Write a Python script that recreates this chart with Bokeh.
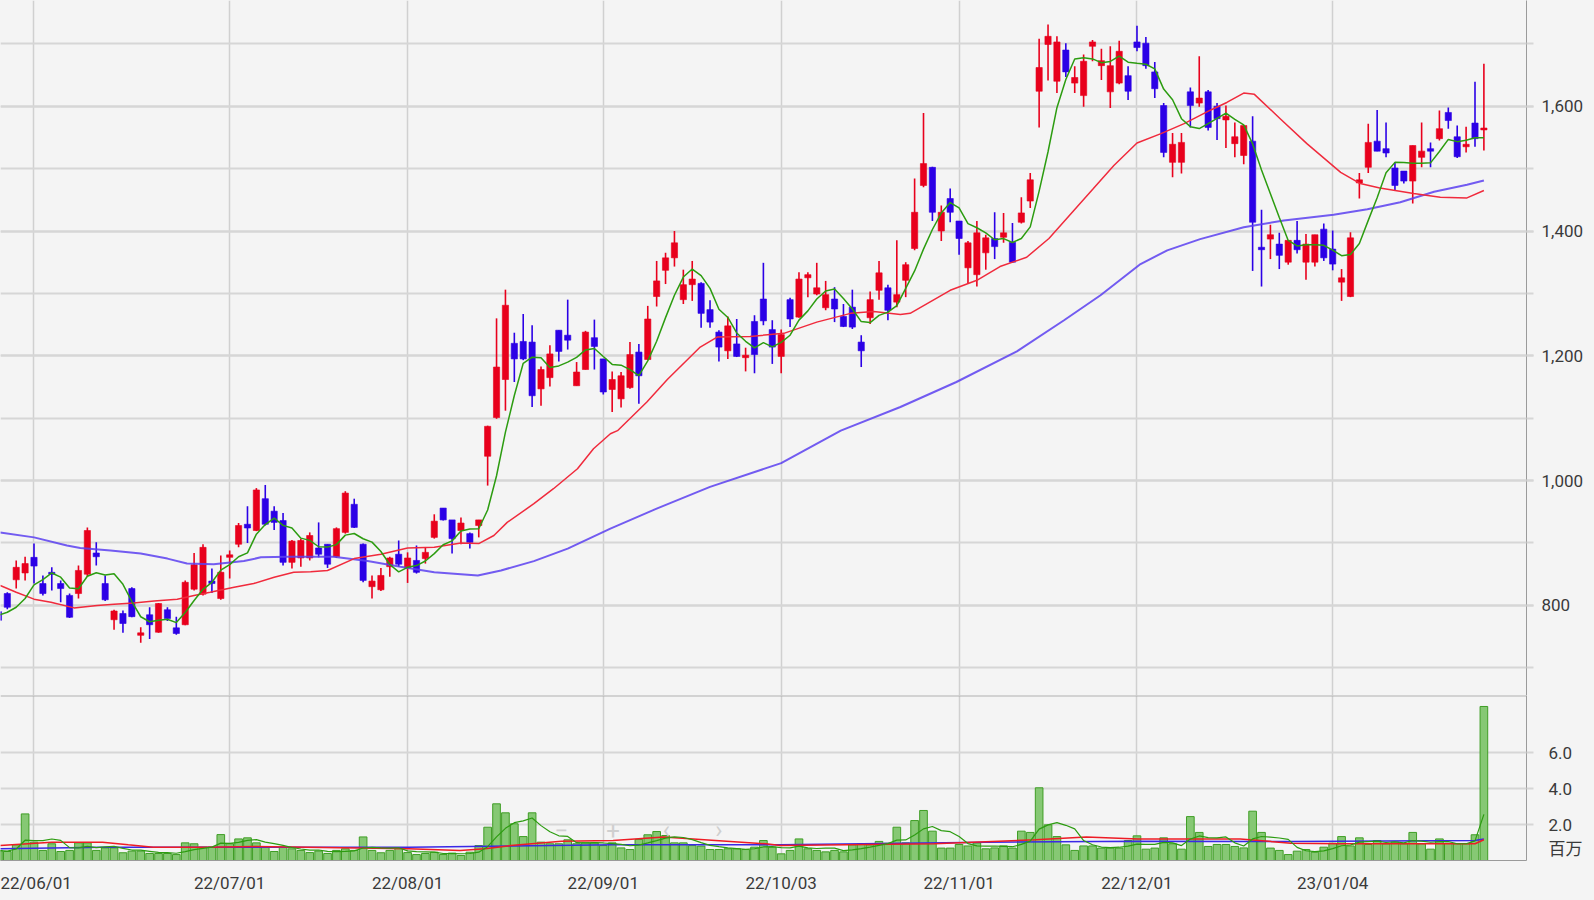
import pandas as pd
from bokeh.plotting import figure
from bokeh.layouts import column
from bokeh.models import (ColumnDataSource, FixedTicker, SingleIntervalTicker, Range1d,
                          NumeralTickFormatter, Span, Label)
from bokeh.embed import file_html
from bokeh.resources import INLINE

# ---------------- data ----------------
day_index = list(range(-4, 164))  # trading-day index, 0 = 22/06/01

opens = [790, 819, 841, 852,
         877, 835, 853, 835, 816, 819, 850, 884, 835, 777,
         787, 827, 752, 785, 757, 793, 764, 769, 826, 818,
         839, 811, 877, 898, 930, 920, 971, 951, 936, 869,
         876, 876, 892, 898, 878, 917, 962, 898, 830, 825,
         862, 882, 860, 872, 875, 909, 956, 937, 920, 915,
         928, 1039, 1101, 1162, 1220, 1223, 1222, 1147, 1165, 1241,
         1233, 1152, 1178, 1229, 1195, 1146, 1131, 1149, 1206, 1194,
         1295, 1337, 1357, 1290, 1314, 1316, 1274, 1238, 1208, 1219,
         1197, 1255, 1291, 1242, 1199, 1290, 1262, 1325, 1299, 1277,
         1291, 1263, 1278, 1222, 1261, 1305, 1309, 1286, 1321, 1372,
         1473, 1502, 1400, 1452, 1416, 1341, 1330, 1365, 1388, 1390,
         1382, 1414, 1448, 1624, 1699, 1640, 1690, 1637, 1617, 1696,
         1665, 1623, 1637, 1649, 1703, 1701, 1655, 1601, 1510, 1510,
         1623, 1605, 1623, 1600, 1578, 1540, 1521, 1544, 1374, 1387,
         1379, 1350, 1385, 1350, 1350, 1403, 1371, 1318, 1295, 1477,
         1502, 1544, 1532, 1501, 1496, 1480, 1518, 1532, 1548, 1590,
         1551, 1535, 1573, 1562]
highs = [795, 821, 872, 878,
         899, 848, 861, 840, 819, 864, 925, 901, 848, 793,
         792, 829, 765, 797, 804, 797, 782, 840, 884, 898,
         859, 880, 888, 932, 959, 988, 993, 959, 948, 905,
         907, 917, 933, 898, 925, 983, 971, 899, 848, 860,
         878, 904, 885, 896, 892, 946, 956, 937, 941, 917,
         937, 1088, 1260, 1306, 1237, 1267, 1249, 1183, 1217, 1241,
         1290, 1190, 1240, 1258, 1195, 1175, 1174, 1222, 1219, 1280,
         1352, 1365, 1400, 1338, 1352, 1318, 1289, 1241, 1263, 1259,
         1213, 1265, 1349, 1257, 1242, 1293, 1334, 1334, 1349, 1320,
         1310, 1283, 1306, 1233, 1303, 1352, 1314, 1385, 1350, 1484,
         1589, 1503, 1441, 1468, 1416, 1384, 1416, 1394, 1430, 1429,
         1413, 1454, 1493, 1708, 1731, 1712, 1701, 1664, 1683, 1706,
         1692, 1696, 1705, 1664, 1729, 1711, 1671, 1605, 1557, 1557,
         1630, 1680, 1626, 1605, 1601, 1574, 1569, 1584, 1434, 1410,
         1397, 1385, 1416, 1395, 1394, 1412, 1401, 1339, 1398, 1493,
         1572, 1594, 1574, 1510, 1496, 1537, 1574, 1542, 1593, 1598,
         1569, 1567, 1639, 1668]
lows = [772, 794, 827, 840,
        835, 816, 824, 805, 780, 811, 846, 864, 807, 761,
        756, 781, 740, 746, 756, 775, 753, 768, 824, 816,
        820, 809, 843, 893, 900, 919, 928, 921, 864, 859,
        862, 872, 877, 860, 876, 915, 924, 837, 811, 823,
        846, 862, 836, 851, 867, 907, 936, 883, 898, 891,
        909, 992, 1099, 1112, 1158, 1193, 1118, 1120, 1151, 1191,
        1210, 1152, 1178, 1178, 1138, 1110, 1117, 1147, 1123, 1193,
        1279, 1315, 1343, 1283, 1288, 1245, 1245, 1191, 1195, 1198,
        1175, 1172, 1249, 1187, 1172, 1246, 1261, 1294, 1297, 1273,
        1254, 1246, 1243, 1182, 1251, 1290, 1257, 1278, 1294, 1369,
        1470, 1416, 1384, 1414, 1362, 1316, 1311, 1338, 1355, 1381,
        1349, 1412, 1437, 1566, 1641, 1621, 1647, 1621, 1599, 1672,
        1642, 1597, 1635, 1610, 1688, 1660, 1613, 1518, 1486, 1492,
        1566, 1599, 1561, 1546, 1533, 1518, 1507, 1336, 1311, 1355,
        1339, 1346, 1364, 1322, 1343, 1352, 1337, 1288, 1294, 1452,
        1493, 1528, 1518, 1464, 1476, 1444, 1502, 1502, 1545, 1564,
        1517, 1526, 1535, 1529]
closes = [776, 797, 861, 867,
          863, 819, 850, 827, 781, 856, 920, 878, 809, 791,
          771, 782, 756, 769, 803, 779, 755, 837, 865, 893,
          835, 853, 881, 928, 924, 985, 930, 933, 869, 903,
          904, 912, 882, 866, 923, 980, 925, 840, 839, 848,
          876, 866, 876, 853, 885, 935, 937, 907, 932, 901,
          937, 1087, 1182, 1281, 1195, 1195, 1136, 1178, 1203, 1207,
          1225, 1174, 1238, 1215, 1142, 1162, 1168, 1202, 1168, 1259,
          1320, 1357, 1381, 1314, 1323, 1268, 1254, 1214, 1248, 1199,
          1201, 1202, 1256, 1214, 1234, 1259, 1323, 1330, 1309, 1298,
          1275, 1247, 1246, 1208, 1290, 1333, 1273, 1298, 1346, 1430,
          1508, 1430, 1430, 1430, 1388, 1381, 1397, 1389, 1375, 1397,
          1350, 1429, 1482, 1662, 1712, 1703, 1655, 1646, 1672, 1703,
          1673, 1665, 1688, 1624, 1694, 1665, 1628, 1526, 1539, 1542,
          1601, 1613, 1566, 1580, 1584, 1551, 1569, 1414, 1370, 1394,
          1361, 1385, 1370, 1379, 1394, 1357, 1347, 1325, 1389, 1482,
          1542, 1528, 1525, 1473, 1480, 1537, 1528, 1528, 1564, 1577,
          1519, 1539, 1548, 1565]
volumes = [0.55, 0.50, 0.87, 2.59,
           1.02, 0.56, 0.93, 0.50, 0.56, 0.98, 0.98, 0.56, 0.70, 0.70,
           0.43, 0.52, 0.52, 0.39, 0.39, 0.39, 0.33, 0.98, 0.93, 0.74,
           0.74, 1.44, 0.93, 1.20, 1.26, 0.98, 0.74, 0.50, 0.74, 0.65,
           0.56, 0.44, 0.52, 0.39, 0.56, 0.65, 0.56, 1.31, 0.56, 0.43,
           0.56, 0.69, 0.44, 0.33, 0.39, 0.46, 0.33, 0.41, 0.28, 0.46,
           0.83, 1.85, 3.15, 2.65, 2.04, 1.33, 2.65, 1.02, 0.93, 0.93,
           1.15, 0.93, 0.98, 0.98, 0.83, 0.98, 0.70, 0.61, 1.17, 1.43,
           1.61, 1.39, 0.98, 0.98, 0.83, 0.80, 0.61, 0.61, 0.65, 0.65,
           0.61, 0.74, 1.11, 0.74, 0.37, 0.56, 1.20, 0.65, 0.56, 0.48,
           0.56, 0.48, 0.87, 0.93, 0.87, 1.06, 0.96, 1.85, 0.98, 2.22,
           2.78, 1.63, 0.69, 0.69, 0.89, 0.81, 0.98, 0.65, 0.70, 0.81,
           0.69, 1.63, 1.56, 4.04, 1.98, 1.33, 0.87, 0.56, 0.81, 0.81,
           0.69, 0.69, 0.69, 1.11, 1.37, 0.63, 0.69, 1.26, 0.93, 0.63,
           2.44, 1.56, 0.78, 0.89, 0.89, 0.78, 0.70, 2.74, 1.56, 0.69,
           0.56, 0.33, 0.52, 0.61, 0.46, 0.74, 0.96, 1.33, 0.81, 1.26,
           0.89, 1.11, 0.93, 1.02, 0.93, 1.56, 0.93, 0.63, 1.20, 0.96,
           0.93, 0.93, 1.43, 8.56]

# 5-day MA values before enough closes are on screen
ma5_lead = [784, 789, 797, 811]

# 25-day and 75-day price moving averages
ma25_x = [-3.8, -2, 0, 1.9, 4.5, 7.1, 9, 11.2, 13.5, 16.1, 18, 19.8, 22.5, 24.7, 27, 29.2,
          31.1, 33, 36, 39, 42, 45, 48, 50, 51.7, 53.2, 56.2, 58.4, 61.1, 62.9, 64.8, 65.6,
          68.9, 71.2, 74.9, 76.8, 80.5, 84.3, 88, 91.8, 94.4, 97.4, 98.5, 103, 106, 108.6,
          111.6, 114.1, 116.9, 119.1, 121.4, 124, 126.7, 129.3, 132.3, 134.1, 136, 137.2,
          140.1, 143.1, 146.9, 149.1, 151.3, 155.1, 158.1, 161.1, 163]
ma25_y = [832, 821, 810, 805, 796, 800, 802, 804, 807, 810, 816, 821, 829, 835, 845, 853,
          854, 856, 875, 882, 892, 893, 900, 899, 912, 933, 963, 987, 1019, 1051, 1075, 1080,
          1126, 1162, 1214, 1230, 1231, 1236, 1254, 1268, 1271, 1266, 1268, 1305, 1321, 1343,
          1358, 1388, 1433, 1468, 1505, 1541, 1556, 1572, 1594, 1606, 1621, 1619,
          1580, 1540, 1494, 1476, 1469, 1460, 1454, 1453, 1465]
ma75_x = [-3.8, 0, 3.7, 5.2, 8.6, 12, 15, 17.2, 20.2, 23.6, 25.5, 28.5, 31.1, 33.7, 37.5,
          41.2, 45, 48, 49.9, 52.5, 56.2, 60, 64.8, 70, 76, 84, 90.7, 97.4, 103.7, 110.5,
          115.8, 119.9, 124.4, 127.4, 131.1, 136, 140.5, 146.1, 149.9, 153.6, 157.4, 161.1, 163]
ma75_y = [917, 909, 896, 892, 888, 883, 875, 867, 866, 871, 877, 878, 878, 878, 871,
          862, 853, 850, 848, 856, 871, 891, 923, 955, 990, 1028, 1080, 1118, 1158, 1207,
          1257, 1297, 1347, 1369, 1387, 1406, 1417, 1426, 1435, 1446, 1463, 1474, 1481]

# volume moving averages (25 / 75 day), millions
vma25_x = [-3.8, 2, 7.7, 10.6, 13.4, 19.2, 24.9, 30.7, 36.4, 42.1, 47.9, 50.7, 53.6, 59.3,
           65.1, 70.8, 76.6, 82.3, 83.9, 101.2, 112.6, 118.3, 124.1, 135.6, 141.3, 147, 162, 163]
vma25_y = [0.83, 1.02, 1.02, 0.87, 0.74, 0.74, 0.78, 0.74, 0.70, 0.65, 0.56, 0.65, 0.83, 1.07,
           1.11, 1.30, 1.11, 0.93, 0.83, 0.93, 1.15, 1.30, 1.20, 1.20, 0.96, 0.93, 0.93, 1.15]
vma75_x = [-3.8, 7.7, 24.9, 42.1, 53.6, 65.1, 83.9, 107, 124.1, 141.3, 162, 163]
vma75_y = [0.65, 0.74, 0.74, 0.74, 0.80, 0.87, 0.87, 1.02, 1.07, 1.05, 1.11, 1.20]

date_ticks = [0, 22, 42, 64, 84, 104, 124, 146]
date_labels = ["22/06/01", "22/07/01", "22/08/01", "22/09/01",
               "22/10/03", "22/11/01", "22/12/01", "23/01/04"]

# ---------------- styling ----------------
BG = "#f4f4f4"
UP = "#e8001c"
DOWN = "#2b00e6"
GRID = "#d6d6d6"
VGRID = "#d0d0d0"
FONT = "Roboto, 'Noto Sans CJK JP', sans-serif"

df = pd.DataFrame(dict(x=day_index, o=opens, h=highs, l=lows, c=closes, v=volumes))
df["top"] = df[["o", "c"]].max(axis=1)
df["bot"] = df[["o", "c"]].min(axis=1)
df["color"] = [UP if c >= o else DOWN for o, c in zip(df.o, df.c)]
ma5 = df["c"].rolling(5).mean()
ma5.iloc[:4] = ma5_lead
df["ma5"] = ma5
df["vma5"] = df["v"].rolling(5, min_periods=1).mean()
src = ColumnDataSource(df)

x_rng = Range1d(-3.766, 167.79)

# ---------------- price pane ----------------
p = figure(width=1594, height=695, x_range=x_rng, y_range=Range1d(655.6, 1769.4),
           output_backend="svg", toolbar_location=None, tools="", x_axis_location=None,
           y_axis_location="right", min_border=0, min_border_right=68,
           background_fill_color=BG, border_fill_color=BG, outline_line_color=None)

p.yaxis.ticker = SingleIntervalTicker(interval=200, num_minor_ticks=2)
p.yaxis.formatter = NumeralTickFormatter(format="0,0")
p.yaxis.major_tick_in = 0
p.yaxis.major_tick_out = 7
p.yaxis.minor_tick_in = 0
p.yaxis.minor_tick_out = 7
p.yaxis.major_tick_line_color = GRID
p.yaxis.minor_tick_line_color = GRID
p.yaxis.major_tick_line_width = 2
p.yaxis.minor_tick_line_width = 2
p.yaxis.axis_line_color = "#9a9a9a"
p.yaxis.major_label_standoff = 8
p.yaxis.major_label_text_font = FONT
p.yaxis.major_label_text_font_size = "17px"
p.yaxis.major_label_text_color = "#3a3a3a"
p.ygrid.grid_line_color = GRID
p.ygrid.grid_line_width = 2
p.ygrid.minor_grid_line_color = GRID
p.ygrid.minor_grid_line_width = 2
# vertical grid of the price pane follows the date ticks
p.xgrid.ticker = FixedTicker(ticks=date_ticks)
p.xgrid.grid_line_color = VGRID
p.xgrid.grid_line_width = 1.5

p.segment(x0="x", y0="l", x1="x", y1="h", source=src, line_color="color", line_width=1.6)
p.vbar(x="x", top="top", bottom="bot", width=0.7, source=src,
       fill_color="color", line_color="color", line_width=0.6)

p.line(ma75_x, ma75_y, line_color="#5a40f0", line_width=2, line_alpha=0.85)
p.line(ma25_x, ma25_y, line_color="#f02a3c", line_width=1.5)
p.line(x="x", y="ma5", source=src, line_color="#2c9c10", line_width=1.5)

# ---------------- volume pane ----------------
v = figure(width=1594, height=205, x_range=x_rng, y_range=Range1d(0, 9.17),
           output_backend="svg", toolbar_location=None, tools="", y_axis_location="right",
           min_border=0, min_border_right=68, min_border_bottom=40,
           background_fill_color=BG, border_fill_color=BG, outline_line_color=None)

v.xaxis.ticker = FixedTicker(ticks=date_ticks)
v.xaxis.major_label_overrides = {t: s for t, s in zip(date_ticks, date_labels)}
v.xaxis.major_tick_out = 0
v.xaxis.major_tick_in = 0
v.xaxis.minor_tick_out = 0
v.xaxis.minor_tick_in = 0
v.xaxis.axis_line_color = "#9a9a9a"
v.xaxis.major_label_standoff = 12
v.xaxis.major_label_text_font = FONT
v.xaxis.major_label_text_font_size = "17px"
v.xaxis.major_label_text_color = "#3a3a3a"
v.xgrid.grid_line_color = VGRID
v.xgrid.grid_line_width = 1.5

vol_ticks = [0.65, 2.0, 4.0, 6.0]
vol_labels = ["百万", "2.0", "4.0", "6.0"]
v.yaxis.ticker = FixedTicker(ticks=vol_ticks, minor_ticks=[2.0, 4.0, 6.0])
v.yaxis.major_label_overrides = {t: s for t, s in zip(vol_ticks, vol_labels)}
v.yaxis.major_tick_out = 0
v.yaxis.major_tick_in = 0
v.yaxis.minor_tick_in = 0
v.yaxis.minor_tick_out = 7
v.yaxis.minor_tick_line_color = GRID
v.yaxis.minor_tick_line_width = 2
v.yaxis.axis_line_color = "#9a9a9a"
v.yaxis.major_label_standoff = 15
v.yaxis.major_label_text_font = FONT
v.yaxis.major_label_text_font_size = "17px"
v.yaxis.major_label_text_color = "#3a3a3a"
v.ygrid.ticker = FixedTicker(ticks=[2.0, 4.0, 6.0])
v.ygrid.grid_line_color = GRID
v.ygrid.grid_line_width = 2

v.add_layout(Span(location=9.17, dimension="width", line_color="#b0b0b0", line_width=2))

v.vbar(x="x", top="v", bottom=0, width=0.86, source=src,
       fill_color="#86c874", line_color="#3f9e25", line_width=1)
v.line(vma75_x, vma75_y, line_color="#3a28e6", line_width=1.5)
v.line(vma25_x, vma25_y, line_color="#ee1c25", line_width=1.5)
v.line(x="x", y="vma5", source=src, line_color="#2c9c10", line_width=1.2)

# faint navigation overlay glyphs in the volume pane
for gx, g in zip([59.3, 65.1, 71.1, 77.0], ["−", "+", "‹", "›"]):
    v.add_layout(Label(x=gx, y=1.67, text=g, text_align="center", text_baseline="middle",
                       text_color="#cfcfcf", text_font=FONT, text_font_size="24px"))

layout = column(p, v, spacing=0)
html = file_html(layout, INLINE, title="chart")
html = html.replace("<head>", "<head><style>html,body{margin:0;padding:0;background:#f4f4f4;overflow:hidden}</style>", 1)
open("out.html", "w").write(html)
